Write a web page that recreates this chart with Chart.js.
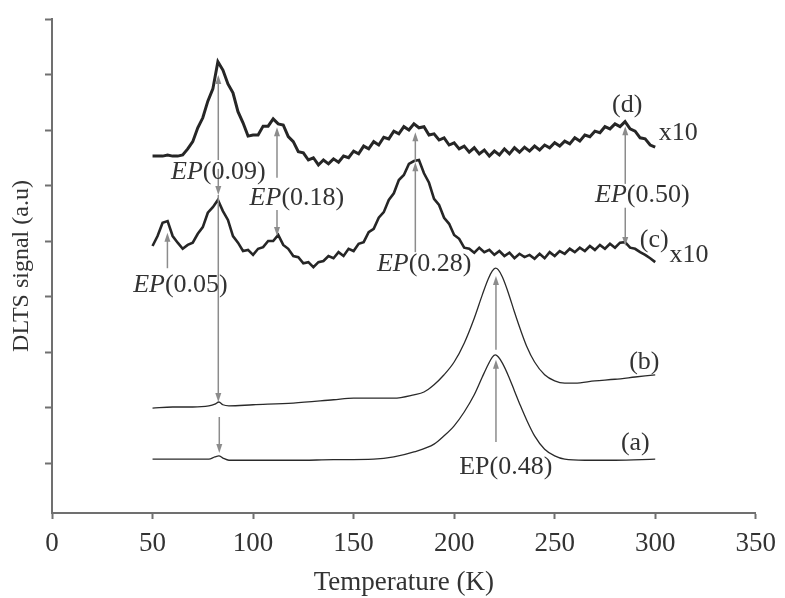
<!DOCTYPE html>
<html>
<head>
<meta charset="utf-8">
<script src="https://cdn.jsdelivr.net/npm/chart.js@4.4.1/dist/chart.umd.min.js"></script>
<style>
  html, body { margin: 0; padding: 0; background: #fff; }
  #dlts { display: block; }
</style>
</head>
<body>
<canvas id="dlts" width="785" height="598"></canvas>
<script>
// DLTS spectra (a)-(d), signal in arbitrary units (one y tick = 1 unit)
const tempA = [50, 60, 70, 78, 81, 83, 85, 88, 100, 120, 140, 160, 170, 180, 190, 195, 200, 205, 210, 214, 217, 219, 220.5, 222, 224, 227, 230, 233, 236, 240, 245, 250, 255, 265, 280, 300];
const sigA = [0.97, 0.97, 0.97, 0.97, 1.01, 1.03, 0.99, 0.95, 0.95, 0.95, 0.96, 0.97, 1.01, 1.10, 1.24, 1.39, 1.57, 1.82, 2.13, 2.45, 2.68, 2.81, 2.85, 2.81, 2.70, 2.47, 2.20, 1.93, 1.68, 1.39, 1.15, 1.03, 0.97, 0.95, 0.95, 0.97];

const tempB = [50, 60, 70, 78, 81, 83, 85, 88, 100, 120, 140, 150, 160, 170, 180, 185, 190, 195, 200, 205, 210, 214, 217, 219, 220.5, 222, 224, 227, 230, 233, 236, 240, 245, 250, 255, 260, 270, 280, 290, 300];
const sigB = [1.89, 1.91, 1.91, 1.93, 1.96, 2.00, 1.95, 1.93, 1.95, 1.98, 2.04, 2.07, 2.07, 2.07, 2.13, 2.18, 2.31, 2.49, 2.72, 3.06, 3.51, 3.93, 4.22, 4.36, 4.41, 4.38, 4.25, 3.96, 3.62, 3.30, 3.01, 2.72, 2.49, 2.38, 2.34, 2.34, 2.38, 2.41, 2.45, 2.49];

const tempNoisy = [50, 52.5, 55, 57.5, 60, 62.5, 65, 67.5, 70, 72.5, 75, 77.5, 80, 82.5, 85, 87.5, 90, 92.5, 95, 97.5,
  100, 102.5, 105, 107.5, 110, 112.5, 115, 117.5, 120, 122.5, 125, 127.5, 130, 132.5, 135, 137.5, 140, 142.5, 145, 147.5,
  150, 152.5, 155, 157.5, 160, 162.5, 165, 167.5, 170, 172.5, 175, 177.5, 180, 182.5, 185, 187.5, 190, 192.5, 195, 197.5,
  200, 202.5, 205, 207.5, 210, 212.5, 215, 217.5, 220, 222.5, 225, 227.5, 230, 232.5, 235, 237.5, 240, 242.5, 245, 247.5,
  250, 252.5, 255, 257.5, 260, 262.5, 265, 267.5, 270, 272.5, 275, 277.5, 280, 282.5, 285, 287.5, 290, 292.5, 295, 297.5, 300];

const sigC = [4.81, 4.99, 5.23, 5.26, 4.99, 4.87, 4.76, 4.83, 4.87, 5.03, 5.15, 5.41, 5.51, 5.64, 5.44, 5.28, 4.99, 4.87, 4.72, 4.74,
  4.65, 4.76, 4.79, 4.90, 4.90, 5.01, 4.83, 4.76, 4.63, 4.61, 4.50, 4.52, 4.43, 4.52, 4.54, 4.63, 4.59, 4.70, 4.63, 4.76,
  4.72, 4.85, 4.88, 5.06, 5.12, 5.32, 5.42, 5.64, 5.76, 6.00, 6.09, 6.29, 6.34, 6.36, 6.12, 5.95, 5.66, 5.55, 5.32, 5.21,
  5.01, 4.94, 4.78, 4.76, 4.69, 4.78, 4.70, 4.74, 4.65, 4.72, 4.63, 4.69, 4.59, 4.67, 4.61, 4.65, 4.58, 4.67, 4.59, 4.70,
  4.63, 4.72, 4.67, 4.76, 4.70, 4.78, 4.72, 4.81, 4.74, 4.83, 4.76, 4.85, 4.78, 4.87, 4.88, 4.78, 4.76, 4.70, 4.65, 4.59, 4.52];

const sigD = [6.43, 6.43, 6.43, 6.45, 6.43, 6.43, 6.45, 6.56, 6.69, 6.94, 7.12, 7.42, 7.64, 8.13, 7.98, 7.73, 7.57, 7.23, 7.03, 6.79,
  6.81, 6.81, 6.97, 6.97, 7.10, 7.01, 6.99, 6.78, 6.69, 6.51, 6.49, 6.36, 6.40, 6.27, 6.36, 6.29, 6.38, 6.32, 6.43, 6.40,
  6.52, 6.47, 6.61, 6.56, 6.69, 6.63, 6.77, 6.74, 6.88, 6.83, 6.96, 6.90, 7.01, 6.94, 6.96, 6.81, 6.83, 6.72, 6.76, 6.63,
  6.67, 6.56, 6.61, 6.50, 6.58, 6.47, 6.54, 6.43, 6.52, 6.45, 6.56, 6.47, 6.58, 6.50, 6.59, 6.52, 6.61, 6.54, 6.63, 6.58,
  6.67, 6.61, 6.70, 6.65, 6.76, 6.70, 6.81, 6.78, 6.88, 6.85, 6.96, 6.92, 7.01, 6.96, 7.05, 6.92, 6.88, 6.76, 6.74, 6.63, 6.59];

const xTicks = [0, 50, 100, 150, 200, 250, 300, 350];
const yTicks = [0.9, 1.9, 2.9, 3.9, 4.9, 5.9, 6.9, 7.9, 8.9];

// arrows: temperature, start signal, end signal (head at the end)
const arrows = [
  { t: 82.7, from: 6.36, to: 7.89 },
  { t: 82.7, from: 6.20, to: 5.73 },
  { t: 82.7, from: 5.73, to: 2.00 },
  { t: 83.2, from: 1.73, to: 1.08 },
  { t: 57.4, from: 4.41, to: 5.05 },
  { t: 111.9, from: 6.04, to: 6.95 },
  { t: 111.9, from: 5.46, to: 4.99 },
  { t: 180.7, from: 4.70, to: 6.32 },
  { t: 180.7, from: 6.32, to: 6.86 },
  { t: 285.1, from: 5.93, to: 6.97 },
  { t: 285.1, from: 5.50, to: 4.81 },
  { t: 220.8, from: 1.28, to: 2.76 },
  { t: 220.8, from: 2.94, to: 4.27 }
];

// text notes: italic part + regular part
const notes = [
  { t: 82.7, v: 6.14, it: 'EP', txt: '(0.09)' },
  { t: 121.8, v: 5.68, it: 'EP', txt: '(0.18)' },
  { t: 63.9, v: 4.11, it: 'EP', txt: '(0.05)' },
  { t: 185.1, v: 4.49, it: 'EP', txt: '(0.28)' },
  { t: 293.6, v: 5.73, it: 'EP', txt: '(0.50)' },
  { t: 225.7, v: 0.83, it: '', txt: 'EP(0.48)' },
  { t: 286.1, v: 7.35, it: '', txt: '(d)' },
  { t: 311.4, v: 6.85, it: '', txt: 'x10' },
  { t: 299.5, v: 4.92, it: '', txt: '(c)' },
  { t: 316.8, v: 4.65, it: '', txt: 'x10' },
  { t: 294.6, v: 2.72, it: '', txt: '(b)' },
  { t: 290.1, v: 1.26, it: '', txt: '(a)' }
];

const serif = '"Liberation Serif", "Times New Roman", serif';
const arrowColor = '#8c8c8c';
const textColor = '#333';

function toPoints(xs, ys) {
  return xs.map((x, i) => ({ x: x, y: ys[i] }));
}

const annotate = {
  id: 'annotate',
  afterDatasetsDraw(chart) {
    const ctx = chart.ctx;
    const xs = chart.scales.x, ys = chart.scales.y;
    ctx.save();
    ctx.strokeStyle = arrowColor;
    ctx.fillStyle = arrowColor;
    ctx.lineWidth = 1.5;
    arrows.forEach(a => {
      const px = xs.getPixelForValue(a.t);
      const y0 = ys.getPixelForValue(a.from);
      const y1 = ys.getPixelForValue(a.to);
      const dir = y1 < y0 ? -1 : 1;
      ctx.beginPath();
      ctx.moveTo(px, y0);
      ctx.lineTo(px, y1 - dir * 4);
      ctx.stroke();
      ctx.beginPath();
      ctx.moveTo(px, y1);
      ctx.lineTo(px - 3, y1 - dir * 9);
      ctx.lineTo(px + 3, y1 - dir * 9);
      ctx.closePath();
      ctx.fill();
    });

    ctx.fillStyle = textColor;
    ctx.textBaseline = 'middle';
    ctx.textAlign = 'left';
    notes.forEach(n => {
      const cx = xs.getPixelForValue(n.t);
      const cy = ys.getPixelForValue(n.v);
      ctx.font = 'italic 26px ' + serif;
      const w1 = n.it ? ctx.measureText(n.it).width : 0;
      ctx.font = '26px ' + serif;
      const w2 = ctx.measureText(n.txt).width;
      let x0 = cx - (w1 + w2) / 2;
      if (n.it) {
        ctx.font = 'italic 26px ' + serif;
        ctx.fillText(n.it, x0, cy);
        x0 += w1;
        ctx.font = '26px ' + serif;
      }
      ctx.fillText(n.txt, x0, cy);
    });
    ctx.restore();
  }
};

const ctx = document.getElementById('dlts').getContext('2d');
new Chart(ctx, {
  type: 'line',
  data: {
    datasets: [
      { label: '(a)', data: toPoints(tempA, sigA), borderColor: '#2a2a2a', borderWidth: 1.3, cubicInterpolationMode: 'monotone' },
      { label: '(b)', data: toPoints(tempB, sigB), borderColor: '#2a2a2a', borderWidth: 1.3, cubicInterpolationMode: 'monotone' },
      { label: '(c)', data: toPoints(tempNoisy, sigC), borderColor: '#262626', borderWidth: 2.6, tension: 0 },
      { label: '(d)', data: toPoints(tempNoisy, sigD), borderColor: '#262626', borderWidth: 3, tension: 0 }
    ]
  },
  options: {
    responsive: false,
    animation: false,
    devicePixelRatio: 1,
    layout: { padding: { top: 19, right: 26, left: 0, bottom: 0 } },
    elements: { point: { radius: 0 } },
    plugins: {
      legend: { display: false },
      tooltip: { enabled: false }
    },
    scales: {
      x: {
        type: 'linear',
        min: 0,
        max: 350,
        afterBuildTicks: s => { s.ticks = xTicks.map(v => ({ value: v })); },
        afterFit: s => { s.height = 85; },
        ticks: { color: textColor, padding: 9, maxRotation: 0, font: { family: serif, size: 27 } },
        grid: { drawOnChartArea: false, drawTicks: true, tickLength: 6, tickColor: '#707070', tickWidth: 2 },
        border: { color: '#707070', width: 2 },
        title: {
          display: true,
          text: 'Temperature (K)',
          color: textColor,
          font: { family: serif, size: 27, lineHeight: 1 },
          padding: { top: 0, bottom: 2 }
        }
      },
      y: {
        type: 'linear',
        min: 0,
        max: 8.9,
        afterBuildTicks: s => { s.ticks = yTicks.map(v => ({ value: v })); },
        afterFit: s => { s.width = 52; },
        ticks: { display: false },
        grid: { drawOnChartArea: false, drawTicks: true, tickLength: 7, tickColor: '#707070', tickWidth: 2 },
        border: { color: '#707070', width: 2 },
        title: {
          display: true,
          text: 'DLTS signal (a.u)',
          color: textColor,
          font: { family: serif, size: 24, lineHeight: 1.2 },
          padding: { top: 7, bottom: 0 }
        }
      }
    }
  },
  plugins: [annotate]
});
</script>
</body>
</html>
